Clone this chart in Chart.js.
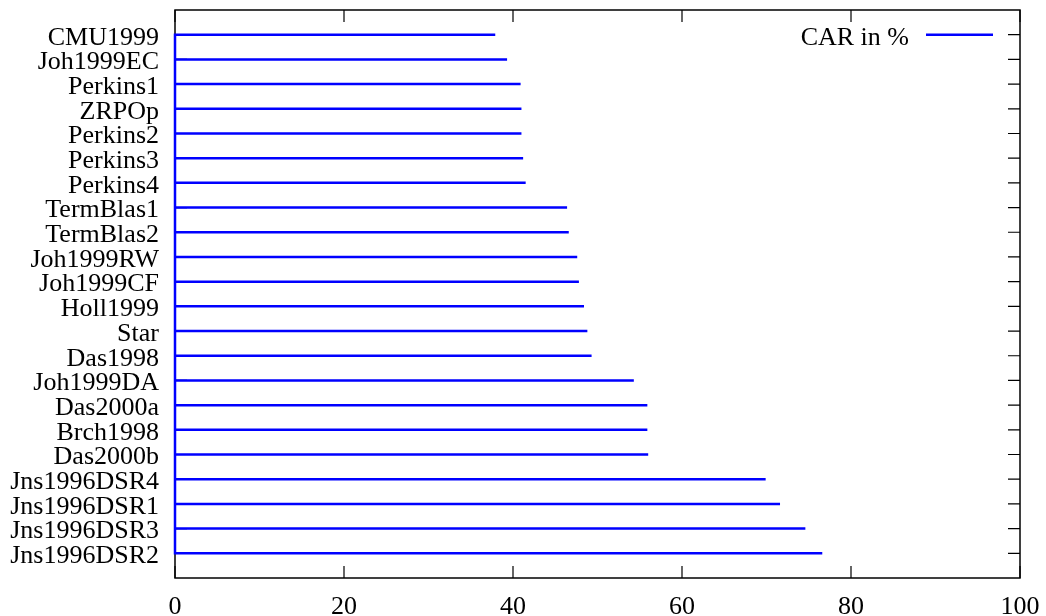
<!DOCTYPE html>
<html>
<head>
<meta charset="utf-8">
<script src="https://cdn.jsdelivr.net/npm/chart.js@4"></script>
<style>
  body { margin: 0; background: #fff; }
</style>
</head>
<body>
<canvas id="car-chart" width="1046" height="616"></canvas>
<script>
// categories, top to bottom
const methods = ['CMU1999', 'Joh1999EC', 'Perkins1', 'ZRPOp', 'Perkins2', 'Perkins3', 'Perkins4',
    'TermBlas1', 'TermBlas2', 'Joh1999RW', 'Joh1999CF', 'Holl1999', 'Star', 'Das1998', 'Joh1999DA',
    'Das2000a', 'Brch1998', 'Das2000b', 'Jns1996DSR4', 'Jns1996DSR1', 'Jns1996DSR3', 'Jns1996DSR2'];
const carValues = [37.9, 39.3, 40.9, 41.0, 41.0, 41.2, 41.5, 46.4, 46.6, 47.6, 47.8, 48.4, 48.8, 49.3,
    54.3, 55.9, 55.9, 56.0, 69.9, 71.6, 74.6, 76.6];
const xTicks = [0, 20, 40, 60, 80, 100];
const seriesLabel = 'CAR in %';

const FONT = '"Liberation Serif", "Times New Roman", serif';
Chart.defaults.font.family = FONT;
Chart.defaults.font.size = 26;
Chart.defaults.color = '#000';

// one path: out to the value and back to zero for each row (gnuplot impulse style)
const points = [];
carValues.forEach((v, i) => {
    points.push({ x: 0, y: i + 1 }, { x: v, y: i + 1 }, { x: 0, y: i + 1 });
});

const framePlugin = {
    id: 'frame',
    beforeDatasetsDraw(chart) {
        const { ctx, chartArea: a, scales } = chart;
        ctx.save();
        ctx.strokeStyle = '#000';
        ctx.lineWidth = 1.5;
        ctx.strokeRect(a.left, a.top, a.right - a.left, a.bottom - a.top);
        ctx.lineWidth = 1.2;
        ctx.beginPath();
        xTicks.forEach(t => {
            const px = scales.x.getPixelForValue(t);
            ctx.moveTo(px, a.bottom); ctx.lineTo(px, a.bottom - 12);
            ctx.moveTo(px, a.top); ctx.lineTo(px, a.top + 12);
        });
        methods.forEach((m, i) => {
            const py = scales.y.getPixelForValue(i + 1);
            ctx.moveTo(a.left, py); ctx.lineTo(a.left + 12, py);
            ctx.moveTo(a.right, py); ctx.lineTo(a.right - 12, py);
        });
        ctx.stroke();
        ctx.restore();
    },
    afterDraw(chart) {
        const { ctx, chartArea: a, scales } = chart;
        const py = scales.y.getPixelForValue(1);
        ctx.save();
        ctx.font = '26px ' + FONT;
        ctx.fillStyle = '#000';
        ctx.textAlign = 'right';
        ctx.textBaseline = 'middle';
        ctx.fillText(seriesLabel, a.right - 111, py + 3);
        ctx.strokeStyle = '#0000ff';
        ctx.lineWidth = 2.5;
        ctx.beginPath();
        ctx.moveTo(a.right - 94, py);
        ctx.lineTo(a.right - 27, py);
        ctx.stroke();
        ctx.restore();
    }
};

const config = {
    type: 'scatter',
    data: {
        datasets: [{
            label: seriesLabel,
            data: points,
            showLine: true,
            borderColor: '#0000ff',
            borderWidth: 2.5,
            pointRadius: 0,
            tension: 0,
            clip: 4
        }]
    },
    options: {
        responsive: false,
        animation: false,
        layout: { padding: { top: 10, right: 26, left: 0, bottom: 0 } },
        plugins: {
            legend: { display: false },
            tooltip: { enabled: false }
        },
        scales: {
            x: {
                type: 'linear',
                min: 0,
                max: 100,
                afterBuildTicks: scale => { scale.ticks = xTicks.map(v => ({ value: v })); },
                afterFit: scale => {
                    scale.height = 38;
                    scale.paddingLeft = 0;
                    scale.paddingRight = 0;
                },
                grid: { display: false, drawTicks: false },
                border: { display: false },
                ticks: { padding: 14, maxRotation: 0 }
            },
            y: {
                type: 'linear',
                min: 0,
                max: methods.length + 1,
                reverse: true,
                afterBuildTicks: scale => { scale.ticks = methods.map((m, i) => ({ value: i + 1 })); },
                afterFit: scale => {
                    scale.width = 175;
                    scale.paddingTop = 0;
                    scale.paddingBottom = 0;
                },
                grid: { display: false, drawTicks: false },
                border: { display: false },
                ticks: {
                    padding: 16,
                    labelOffset: 3,
                    autoSkip: false,
                    callback: v => methods[v - 1] || ''
                }
            }
        }
    },
    plugins: [framePlugin]
};

const ctx = document.getElementById('car-chart').getContext('2d');
const carChart = new Chart(ctx, config);
</script>
</body>
</html>
